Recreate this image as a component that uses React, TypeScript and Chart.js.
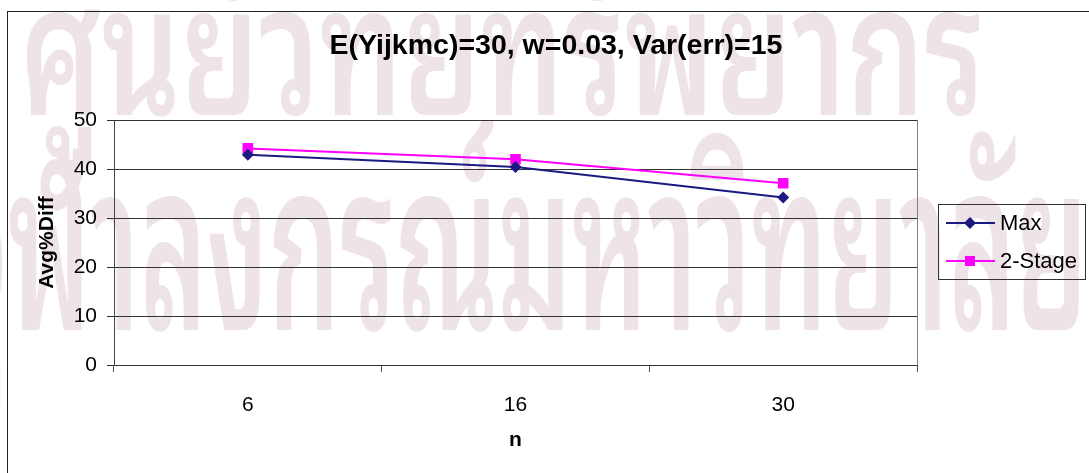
import { useEffect, useRef } from "react";
import { Chart, registerables } from "chart.js";

Chart.register(...registerables);

// Values read for each sample size n
const categories = ["6", "16", "30"];
const maxValues = [42.9, 40.4, 34.2];
const twoStageValues = [44.2, 42.0, 37.1];
const yTickValues = [0, 10, 20, 30, 40, 50];
const seriesNames = ["Max", "2-Stage"];

const chartTitle = "E(Yijkmc)=30, w=0.03, Var(err)=15";
const yAxisTitle = "Avg%Diff";
const xAxisTitle = "n";
const watermarkTop = "ศูนย์วิทยทรัพยากร";
const watermarkBottomLead = "จุ";
const watermarkBottomRest = "ฬาลงกรณ์มหาวิทยาลัย";

const FONT = "'Liberation Sans', Arial, sans-serif";
const THAI_FONT = "'Noto Sans Thai Looped', 'Noto Looped Thai', Loma, Garuda, 'Noto Sans Thai', sans-serif";

const decorPlugin = {
  id: "decor",
  beforeDraw(chart: any) {
    const { ctx, width, height } = chart;
    ctx.save();
    ctx.fillStyle = "#ffffff";
    ctx.fillRect(0, 0, width, height);

    // pale institutional watermark behind the chart
    ctx.fillStyle = "#eee3e8";
    ctx.textBaseline = "alphabetic";
    ctx.textAlign = "left";

    ctx.font = `600 180px ${THAI_FONT}`;
    const w1 = ctx.measureText(watermarkTop).width || 1;
    ctx.save();
    ctx.translate(20, 115);
    ctx.scale(965 / w1, 1);
    ctx.fillText(watermarkTop, 0, 0);
    ctx.restore();

    ctx.font = `600 235px ${THAI_FONT}`;
    const lead = ctx.measureText(watermarkBottomLead).width;
    const rest = ctx.measureText(watermarkBottomRest).width || 1;
    const s2 = 1080 / rest;
    ctx.save();
    ctx.translate(8 - lead * s2, 330);
    ctx.scale(s2, 1);
    ctx.fillText(watermarkBottomLead + watermarkBottomRest, 0, 0);
    ctx.restore();

    // outer chart frame
    ctx.strokeStyle = "#222222";
    ctx.lineWidth = 1;
    ctx.strokeRect(7.5, 11.5, 1200, 600);

    // chart title
    ctx.fillStyle = "#000000";
    ctx.font = `bold 28.5px ${FONT}`;
    ctx.textAlign = "center";
    ctx.textBaseline = "middle";
    ctx.fillText(chartTitle, 556, 46);
    ctx.restore();
  },
  afterDraw(chart: any) {
    const { ctx, chartArea } = chart;
    ctx.save();
    // plot area right edge
    ctx.strokeStyle = "#808080";
    ctx.lineWidth = 1;
    ctx.beginPath();
    ctx.moveTo(Math.round(chartArea.right) + 0.5, chartArea.top);
    ctx.lineTo(Math.round(chartArea.right) + 0.5, chartArea.bottom);
    ctx.stroke();

    // legend box
    ctx.strokeStyle = "#333333";
    ctx.strokeRect(938.5, 204.5, 147, 75);
    const rows = [223, 261];
    chart.data.datasets.forEach((ds: any, i: number) => {
      const y = rows[i];
      ctx.strokeStyle = ds.borderColor;
      ctx.lineWidth = ds.borderWidth;
      ctx.beginPath();
      ctx.moveTo(946, y);
      ctx.lineTo(995, y);
      ctx.stroke();
      ctx.fillStyle = ds.backgroundColor;
      if (ds.pointStyle === "rectRot") {
        ctx.beginPath();
        ctx.moveTo(970, y - 6);
        ctx.lineTo(976, y);
        ctx.lineTo(970, y + 6);
        ctx.lineTo(964, y);
        ctx.closePath();
        ctx.fill();
      } else {
        ctx.fillRect(965, y - 5, 10, 10);
      }
      ctx.fillStyle = "#000000";
      ctx.font = `22px ${FONT}`;
      ctx.textAlign = "left";
      ctx.textBaseline = "middle";
      ctx.fillText(ds.label, 1000, y + 1);
    });
    ctx.restore();
  },
};

export default function App() {
  const canvasRef = useRef<HTMLCanvasElement | null>(null);

  useEffect(() => {
    document.body.style.margin = "0";
    const canvas = canvasRef.current;
    if (!canvas) return;
    const chart = new Chart(canvas, {
      type: "line",
      data: {
        labels: categories,
        datasets: [
          {
            label: seriesNames[0],
            data: maxValues,
            borderColor: "#1a1a80",
            backgroundColor: "#1a1a80",
            borderWidth: 2,
            pointStyle: "rectRot",
            pointRadius: 6,
            pointHoverRadius: 6,
            pointBorderWidth: 0,
            tension: 0,
          },
          {
            label: seriesNames[1],
            data: twoStageValues,
            borderColor: "#ff00ff",
            backgroundColor: "#ff00ff",
            borderWidth: 2,
            pointStyle: "rect",
            pointRadius: 7.5,
            pointHoverRadius: 7.5,
            pointBorderWidth: 0,
            tension: 0,
          },
        ],
      },
      options: {
        responsive: false,
        animation: false,
        events: [],
        layout: { padding: { left: 7, top: 120, right: 172, bottom: 0 } },
        plugins: {
          legend: { display: false },
          title: { display: false },
          tooltip: { enabled: false },
        },
        scales: {
          x: {
            type: "category",
            offset: true,
            grid: {
              offset: true,
              drawOnChartArea: false,
              drawTicks: true,
              tickLength: 7,
              color: "#555555",
            },
            border: { color: "#333333", width: 1 },
            ticks: {
              color: "#000000",
              font: { family: FONT, size: 21 },
              padding: 21,
            },
            title: {
              display: true,
              text: xAxisTitle,
              color: "#000000",
              font: { family: FONT, size: 21, weight: "bold" },
              padding: { top: 6, bottom: 20 },
            },
            afterFit(scale: any) {
              scale.height = 108;
            },
          },
          y: {
            min: 0,
            max: 50,
            afterBuildTicks(scale: any) {
              scale.ticks = yTickValues.map((v) => ({ value: v }));
            },
            grid: {
              color: "#333333",
              tickLength: 7,
              drawTicks: true,
            },
            border: { color: "#444444", width: 1 },
            ticks: {
              color: "#000000",
              font: { family: FONT, size: 21 },
              padding: 10,
            },
            title: {
              display: true,
              text: yAxisTitle,
              color: "#000000",
              font: { family: FONT, size: 21, weight: "bold" },
              padding: { top: 28, bottom: 0 },
            },
            afterFit(scale: any) {
              scale.width = 107;
            },
          },
        },
      },
      plugins: [decorPlugin],
    });
    return () => chart.destroy();
  }, []);

  return <canvas ref={canvasRef} width={1089} height={473} style={{ display: "block" }} />;
}
